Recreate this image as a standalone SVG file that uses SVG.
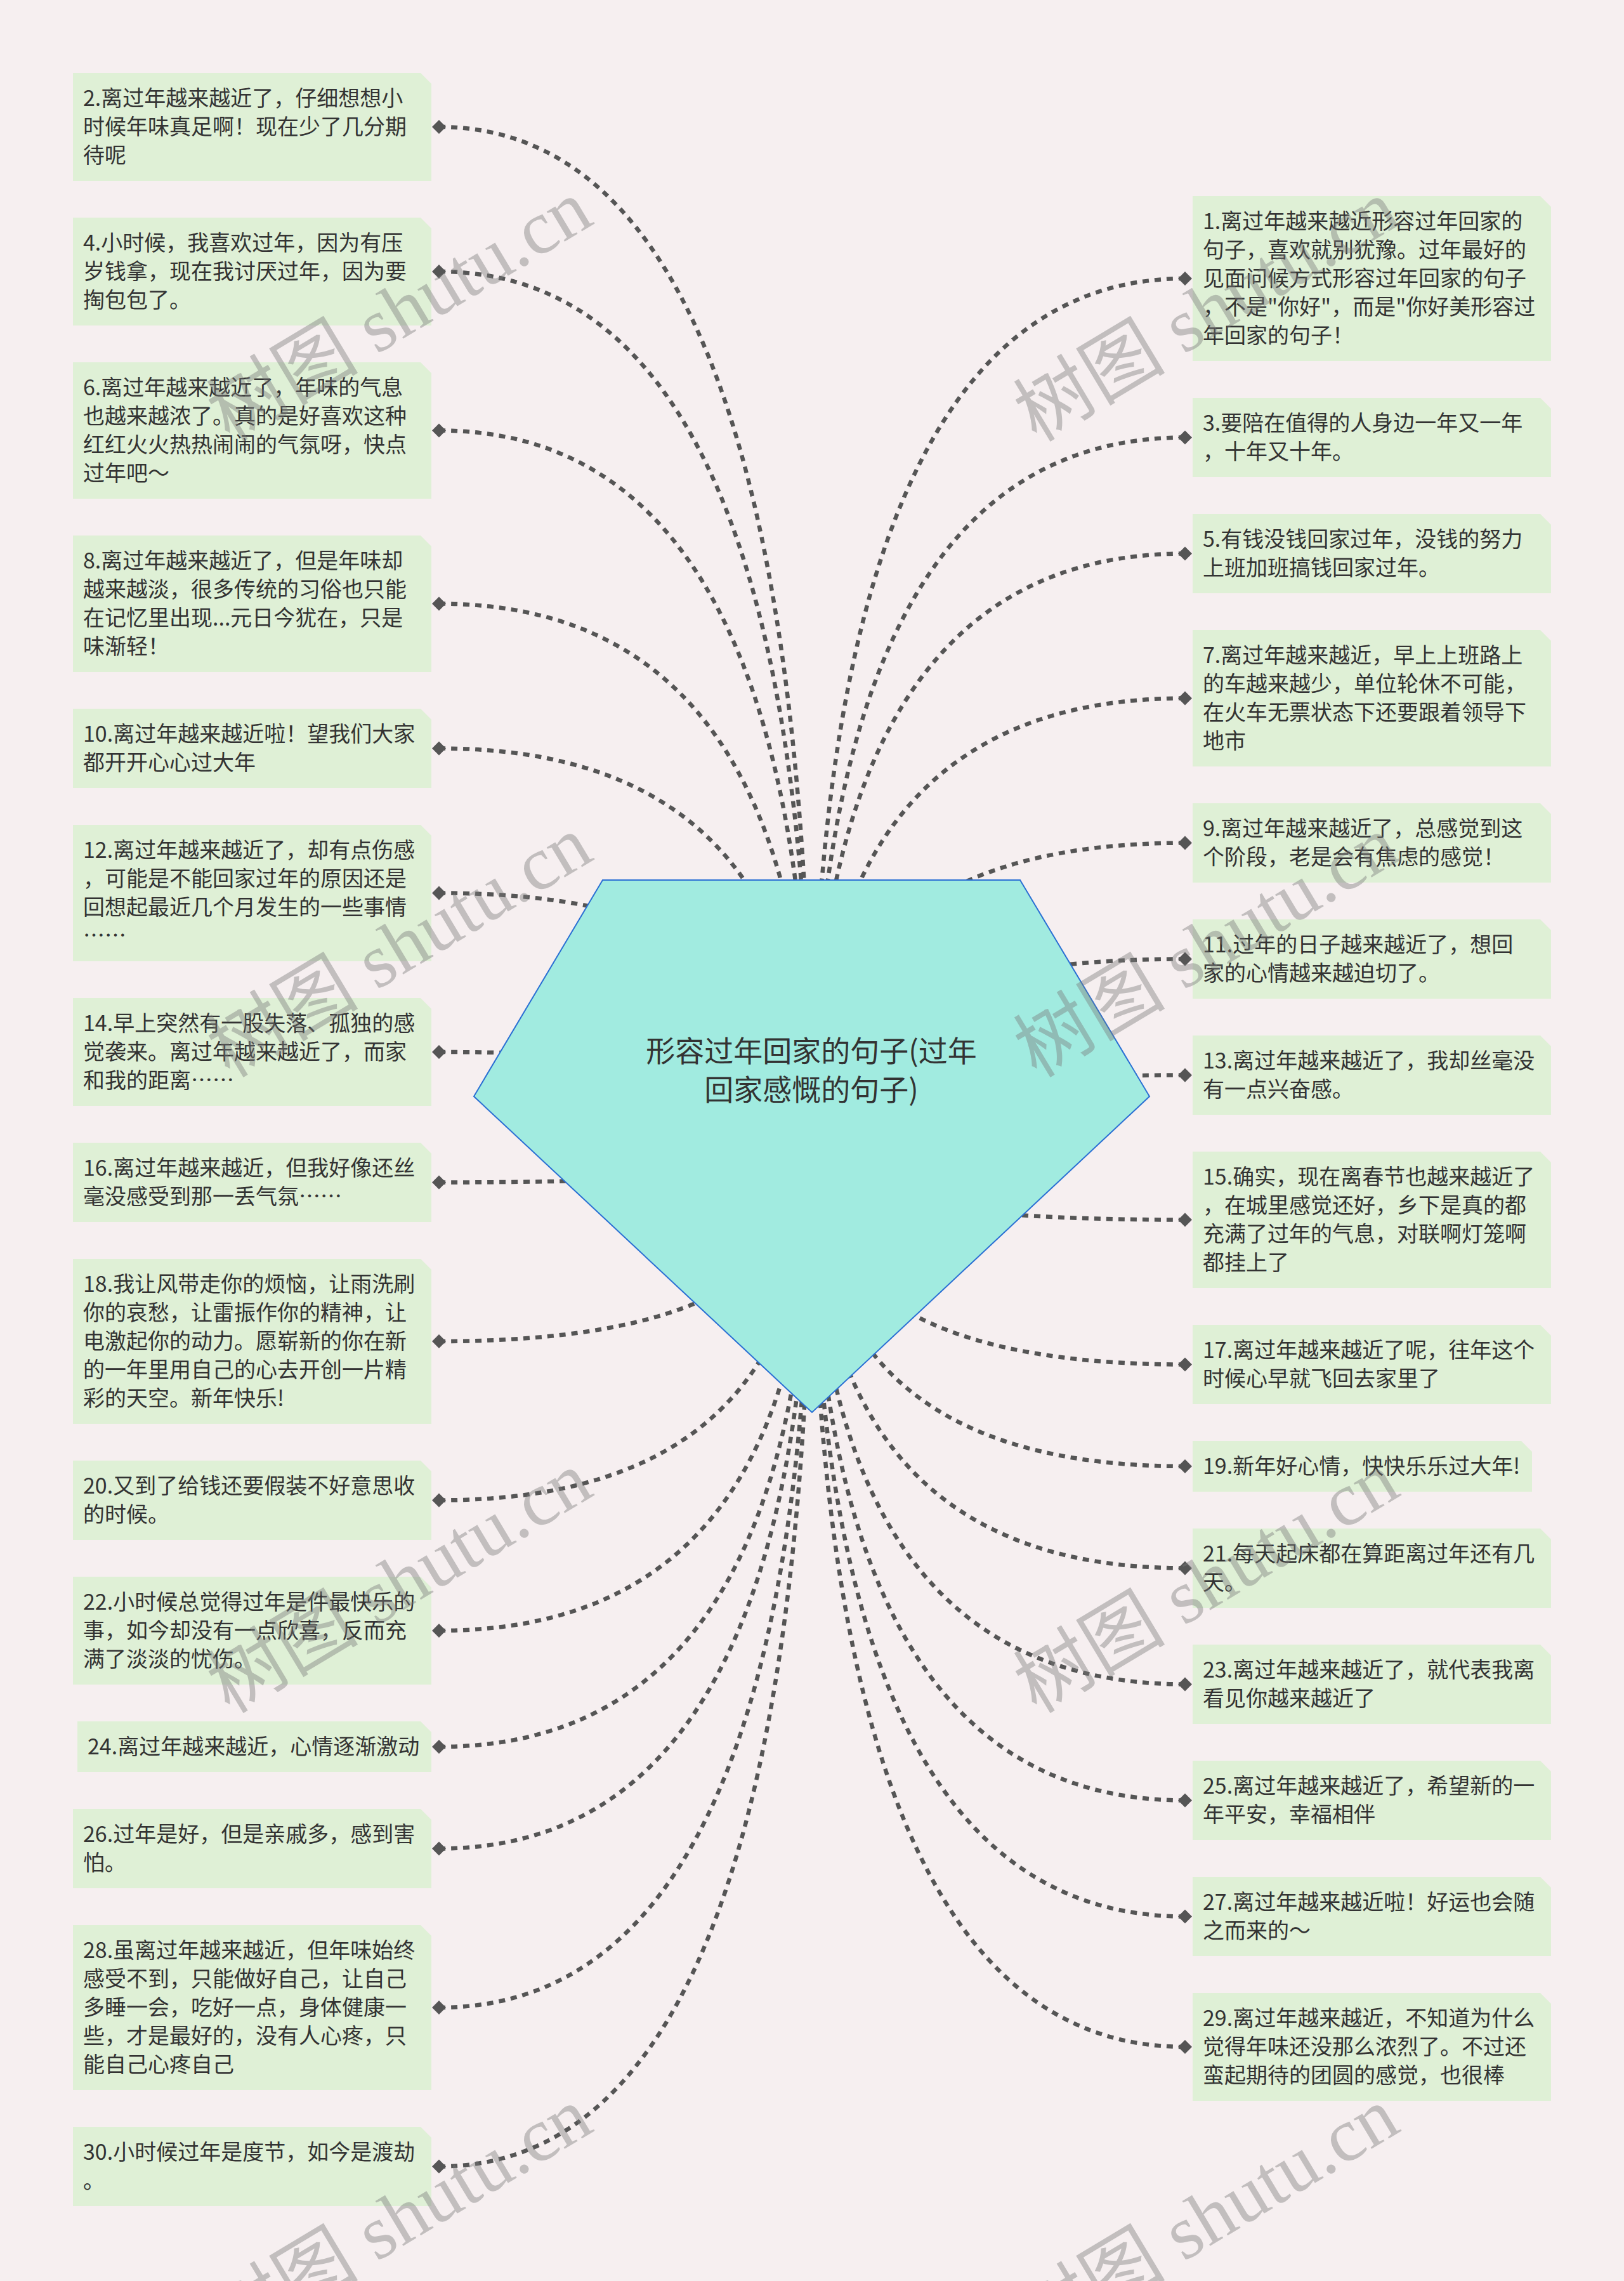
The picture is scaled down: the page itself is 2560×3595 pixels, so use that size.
<svg xmlns="http://www.w3.org/2000/svg" width="2560" height="3595" viewBox="0 0 2560 3595">
<defs>
<style>
.bg{fill:#f6eff0}
.box{fill:#dff0d6}
.t{font-family:"Noto Sans CJK SC","Liberation Sans",sans-serif;font-size:34px;fill:#333333}
.ct{font-family:"Noto Sans CJK SC","Liberation Sans",sans-serif;font-size:46px;fill:#333333;text-anchor:middle}
.c{fill:none;stroke:#555555;stroke-width:6.5;stroke-dasharray:10 9}
.dm{fill:#555555}
.wm{font-family:"Liberation Serif","Noto Sans CJK SC",serif;font-size:120px;fill:#7a7a7a;fill-opacity:0.42}
</style>
<path id="dl" d="M-11,0 L0,-11 L11,0 L0,11 Z"/>
</defs>
<rect class="bg" x="0" y="0" width="2560" height="3595"/>
<g id="connectors">
<path class="c" d="M692,200 Q1279,200 1279,1807"/>
<path class="c" d="M692,428 Q1279,428 1279,1807"/>
<path class="c" d="M692,678.5 Q1279,678.5 1279,1807"/>
<path class="c" d="M692,951.5 Q1279,951.5 1279,1807"/>
<path class="c" d="M692,1179.5 Q1279,1179.5 1279,1807"/>
<path class="c" d="M692,1407.5 Q1279,1407.5 1279,1807"/>
<path class="c" d="M692,1658 Q1279,1658 1279,1807"/>
<path class="c" d="M692,1863.5 Q1279,1863.5 1279,1807"/>
<path class="c" d="M692,2114 Q1279,2114 1279,1807"/>
<path class="c" d="M692,2364.5 Q1279,2364.5 1279,1807"/>
<path class="c" d="M692,2570 Q1279,2570 1279,1807"/>
<path class="c" d="M692,2753 Q1279,2753 1279,1807"/>
<path class="c" d="M692,2913.5 Q1279,2913.5 1279,1807"/>
<path class="c" d="M692,3164 Q1279,3164 1279,1807"/>
<path class="c" d="M692,3414.5 Q1279,3414.5 1279,1807"/>
<path class="c" d="M1868,439 Q1279,439 1279,1807"/>
<path class="c" d="M1868,689.5 Q1279,689.5 1279,1807"/>
<path class="c" d="M1868,872.5 Q1279,872.5 1279,1807"/>
<path class="c" d="M1868,1100.5 Q1279,1100.5 1279,1807"/>
<path class="c" d="M1868,1328.5 Q1279,1328.5 1279,1807"/>
<path class="c" d="M1868,1511.5 Q1279,1511.5 1279,1807"/>
<path class="c" d="M1868,1694.5 Q1279,1694.5 1279,1807"/>
<path class="c" d="M1868,1922.5 Q1279,1922.5 1279,1807"/>
<path class="c" d="M1868,2150.5 Q1279,2150.5 1279,1807"/>
<path class="c" d="M1868,2311 Q1279,2311 1279,1807"/>
<path class="c" d="M1868,2471.5 Q1279,2471.5 1279,1807"/>
<path class="c" d="M1868,2654.5 Q1279,2654.5 1279,1807"/>
<path class="c" d="M1868,2837.5 Q1279,2837.5 1279,1807"/>
<path class="c" d="M1868,3020.5 Q1279,3020.5 1279,1807"/>
<path class="c" d="M1868,3226 Q1279,3226 1279,1807"/>
</g>
<g id="center">
<polygon points="950,1387 1608,1387 1812,1728 1280,2226 747,1728" fill="#a1ebe0" stroke="#2a6fd4" stroke-width="2"/>
<text class="ct"><tspan x="1279" y="1673">形容过年回家的句子(过年</tspan><tspan x="1279" y="1734">回家感慨的句子)</tspan></text>
</g>
<g id="n2"><path class="box" d="M115,115 H663 L680,132 V285 H115 Z"/><use href="#dl" class="dm" x="692" y="200"/><text class="t"><tspan x="131" y="167">2.离过年越来越近了，仔细想想小</tspan><tspan x="131" y="212">时候年味真足啊！现在少了几分期</tspan><tspan x="131" y="257">待呢</tspan></text></g>
<g id="n4"><path class="box" d="M115,343 H663 L680,360 V513 H115 Z"/><use href="#dl" class="dm" x="692" y="428"/><text class="t"><tspan x="131" y="395">4.小时候，我喜欢过年，因为有压</tspan><tspan x="131" y="440">岁钱拿，现在我讨厌过年，因为要</tspan><tspan x="131" y="485">掏包包了。</tspan></text></g>
<g id="n6"><path class="box" d="M115,571 H663 L680,588 V786 H115 Z"/><use href="#dl" class="dm" x="692" y="678.5"/><text class="t"><tspan x="131" y="623">6.离过年越来越近了，年味的气息</tspan><tspan x="131" y="668">也越来越浓了。真的是好喜欢这种</tspan><tspan x="131" y="713">红红火火热热闹闹的气氛呀，快点</tspan><tspan x="131" y="758">过年吧～</tspan></text></g>
<g id="n8"><path class="box" d="M115,844 H663 L680,861 V1059 H115 Z"/><use href="#dl" class="dm" x="692" y="951.5"/><text class="t"><tspan x="131" y="896">8.离过年越来越近了，但是年味却</tspan><tspan x="131" y="941">越来越淡，很多传统的习俗也只能</tspan><tspan x="131" y="986">在记忆里出现...元日今犹在，只是</tspan><tspan x="131" y="1031">味渐轻！</tspan></text></g>
<g id="n10"><path class="box" d="M115,1117 H663 L680,1134 V1242 H115 Z"/><use href="#dl" class="dm" x="692" y="1179.5"/><text class="t"><tspan x="131" y="1169">10.离过年越来越近啦！望我们大家</tspan><tspan x="131" y="1214">都开开心心过大年</tspan></text></g>
<g id="n12"><path class="box" d="M115,1300 H663 L680,1317 V1515 H115 Z"/><use href="#dl" class="dm" x="692" y="1407.5"/><text class="t"><tspan x="131" y="1352">12.离过年越来越近了，却有点伤感</tspan><tspan x="131" y="1397">，可能是不能回家过年的原因还是</tspan><tspan x="131" y="1442">回想起最近几个月发生的一些事情</tspan><tspan x="131" y="1487">……</tspan></text></g>
<g id="n14"><path class="box" d="M115,1573 H663 L680,1590 V1743 H115 Z"/><use href="#dl" class="dm" x="692" y="1658"/><text class="t"><tspan x="131" y="1625">14.早上突然有一股失落、孤独的感</tspan><tspan x="131" y="1670">觉袭来。离过年越来越近了，而家</tspan><tspan x="131" y="1715">和我的距离……</tspan></text></g>
<g id="n16"><path class="box" d="M115,1801 H663 L680,1818 V1926 H115 Z"/><use href="#dl" class="dm" x="692" y="1863.5"/><text class="t"><tspan x="131" y="1853">16.离过年越来越近，但我好像还丝</tspan><tspan x="131" y="1898">毫没感受到那一丢气氛……</tspan></text></g>
<g id="n18"><path class="box" d="M115,1984 H663 L680,2001 V2244 H115 Z"/><use href="#dl" class="dm" x="692" y="2114"/><text class="t"><tspan x="131" y="2036">18.我让风带走你的烦恼，让雨洗刷</tspan><tspan x="131" y="2081">你的哀愁，让雷振作你的精神，让</tspan><tspan x="131" y="2126">电激起你的动力。愿崭新的你在新</tspan><tspan x="131" y="2171">的一年里用自己的心去开创一片精</tspan><tspan x="131" y="2216">彩的天空。新年快乐!</tspan></text></g>
<g id="n20"><path class="box" d="M115,2302 H663 L680,2319 V2427 H115 Z"/><use href="#dl" class="dm" x="692" y="2364.5"/><text class="t"><tspan x="131" y="2354">20.又到了给钱还要假装不好意思收</tspan><tspan x="131" y="2399">的时候。</tspan></text></g>
<g id="n22"><path class="box" d="M115,2485 H663 L680,2502 V2655 H115 Z"/><use href="#dl" class="dm" x="692" y="2570"/><text class="t"><tspan x="131" y="2537">22.小时候总觉得过年是件最快乐的</tspan><tspan x="131" y="2582">事，如今却没有一点欣喜，反而充</tspan><tspan x="131" y="2627">满了淡淡的忧伤。</tspan></text></g>
<g id="n24"><path class="box" d="M122,2713 H663 L680,2730 V2793 H122 Z"/><use href="#dl" class="dm" x="692" y="2753"/><text class="t"><tspan x="138" y="2765">24.离过年越来越近，心情逐渐激动</tspan></text></g>
<g id="n26"><path class="box" d="M115,2851 H663 L680,2868 V2976 H115 Z"/><use href="#dl" class="dm" x="692" y="2913.5"/><text class="t"><tspan x="131" y="2903">26.过年是好，但是亲戚多，感到害</tspan><tspan x="131" y="2948">怕。</tspan></text></g>
<g id="n28"><path class="box" d="M115,3034 H663 L680,3051 V3294 H115 Z"/><use href="#dl" class="dm" x="692" y="3164"/><text class="t"><tspan x="131" y="3086">28.虽离过年越来越近，但年味始终</tspan><tspan x="131" y="3131">感受不到，只能做好自己，让自己</tspan><tspan x="131" y="3176">多睡一会，吃好一点，身体健康一</tspan><tspan x="131" y="3221">些，才是最好的，没有人心疼，只</tspan><tspan x="131" y="3266">能自己心疼自己</tspan></text></g>
<g id="n30"><path class="box" d="M115,3352 H663 L680,3369 V3477 H115 Z"/><use href="#dl" class="dm" x="692" y="3414.5"/><text class="t"><tspan x="131" y="3404">30.小时候过年是度节，如今是渡劫</tspan><tspan x="131" y="3449">。</tspan></text></g>
<g id="n1"><path class="box" d="M1880,309 H2428 L2445,326 V569 H1880 Z"/><use href="#dl" class="dm" x="1868" y="439"/><text class="t"><tspan x="1896" y="361">1.离过年越来越近形容过年回家的</tspan><tspan x="1896" y="406">句子，喜欢就别犹豫。过年最好的</tspan><tspan x="1896" y="451">见面问候方式形容过年回家的句子</tspan><tspan x="1896" y="496">，不是"你好"，而是"你好美形容过</tspan><tspan x="1896" y="541">年回家的句子！</tspan></text></g>
<g id="n3"><path class="box" d="M1880,627 H2428 L2445,644 V752 H1880 Z"/><use href="#dl" class="dm" x="1868" y="689.5"/><text class="t"><tspan x="1896" y="679">3.要陪在值得的人身边一年又一年</tspan><tspan x="1896" y="724">，十年又十年。</tspan></text></g>
<g id="n5"><path class="box" d="M1880,810 H2428 L2445,827 V935 H1880 Z"/><use href="#dl" class="dm" x="1868" y="872.5"/><text class="t"><tspan x="1896" y="862">5.有钱没钱回家过年，没钱的努力</tspan><tspan x="1896" y="907">上班加班搞钱回家过年。</tspan></text></g>
<g id="n7"><path class="box" d="M1880,993 H2428 L2445,1010 V1208 H1880 Z"/><use href="#dl" class="dm" x="1868" y="1100.5"/><text class="t"><tspan x="1896" y="1045">7.离过年越来越近，早上上班路上</tspan><tspan x="1896" y="1090">的车越来越少，单位轮休不可能，</tspan><tspan x="1896" y="1135">在火车无票状态下还要跟着领导下</tspan><tspan x="1896" y="1180">地市</tspan></text></g>
<g id="n9"><path class="box" d="M1880,1266 H2428 L2445,1283 V1391 H1880 Z"/><use href="#dl" class="dm" x="1868" y="1328.5"/><text class="t"><tspan x="1896" y="1318">9.离过年越来越近了，总感觉到这</tspan><tspan x="1896" y="1363">个阶段，老是会有焦虑的感觉！</tspan></text></g>
<g id="n11"><path class="box" d="M1880,1449 H2428 L2445,1466 V1574 H1880 Z"/><use href="#dl" class="dm" x="1868" y="1511.5"/><text class="t"><tspan x="1896" y="1501">11.过年的日子越来越近了，想回</tspan><tspan x="1896" y="1546">家的心情越来越迫切了。</tspan></text></g>
<g id="n13"><path class="box" d="M1880,1632 H2428 L2445,1649 V1757 H1880 Z"/><use href="#dl" class="dm" x="1868" y="1694.5"/><text class="t"><tspan x="1896" y="1684">13.离过年越来越近了，我却丝毫没</tspan><tspan x="1896" y="1729">有一点兴奋感。</tspan></text></g>
<g id="n15"><path class="box" d="M1880,1815 H2428 L2445,1832 V2030 H1880 Z"/><use href="#dl" class="dm" x="1868" y="1922.5"/><text class="t"><tspan x="1896" y="1867">15.确实，现在离春节也越来越近了</tspan><tspan x="1896" y="1912">，在城里感觉还好，乡下是真的都</tspan><tspan x="1896" y="1957">充满了过年的气息，对联啊灯笼啊</tspan><tspan x="1896" y="2002">都挂上了</tspan></text></g>
<g id="n17"><path class="box" d="M1880,2088 H2428 L2445,2105 V2213 H1880 Z"/><use href="#dl" class="dm" x="1868" y="2150.5"/><text class="t"><tspan x="1896" y="2140">17.离过年越来越近了呢，往年这个</tspan><tspan x="1896" y="2185">时候心早就飞回去家里了</tspan></text></g>
<g id="n19"><path class="box" d="M1880,2271 H2398 L2415,2288 V2351 H1880 Z"/><use href="#dl" class="dm" x="1868" y="2311"/><text class="t"><tspan x="1896" y="2323">19.新年好心情，快快乐乐过大年!</tspan></text></g>
<g id="n21"><path class="box" d="M1880,2409 H2428 L2445,2426 V2534 H1880 Z"/><use href="#dl" class="dm" x="1868" y="2471.5"/><text class="t"><tspan x="1896" y="2461">21.每天起床都在算距离过年还有几</tspan><tspan x="1896" y="2506">天。</tspan></text></g>
<g id="n23"><path class="box" d="M1880,2592 H2428 L2445,2609 V2717 H1880 Z"/><use href="#dl" class="dm" x="1868" y="2654.5"/><text class="t"><tspan x="1896" y="2644">23.离过年越来越近了，就代表我离</tspan><tspan x="1896" y="2689">看见你越来越近了</tspan></text></g>
<g id="n25"><path class="box" d="M1880,2775 H2428 L2445,2792 V2900 H1880 Z"/><use href="#dl" class="dm" x="1868" y="2837.5"/><text class="t"><tspan x="1896" y="2827">25.离过年越来越近了，希望新的一</tspan><tspan x="1896" y="2872">年平安，幸福相伴</tspan></text></g>
<g id="n27"><path class="box" d="M1880,2958 H2428 L2445,2975 V3083 H1880 Z"/><use href="#dl" class="dm" x="1868" y="3020.5"/><text class="t"><tspan x="1896" y="3010">27.离过年越来越近啦！好运也会随</tspan><tspan x="1896" y="3055">之而来的～</tspan></text></g>
<g id="n29"><path class="box" d="M1880,3141 H2428 L2445,3158 V3311 H1880 Z"/><use href="#dl" class="dm" x="1868" y="3226"/><text class="t"><tspan x="1896" y="3193">29.离过年越来越近，不知道为什么</tspan><tspan x="1896" y="3238">觉得年味还没那么浓烈了。不过还</tspan><tspan x="1896" y="3283">蛮起期待的团圆的感觉，也很棒</tspan></text></g>
<g id="watermarks">
<text class="wm" transform="translate(362,698) rotate(-31)">树图 shutu.cn</text>
<text class="wm" transform="translate(1634,698) rotate(-31)">树图 shutu.cn</text>
<text class="wm" transform="translate(362,1700) rotate(-31)">树图 shutu.cn</text>
<text class="wm" transform="translate(1634,1700) rotate(-31)">树图 shutu.cn</text>
<text class="wm" transform="translate(362,2702) rotate(-31)">树图 shutu.cn</text>
<text class="wm" transform="translate(1634,2702) rotate(-31)">树图 shutu.cn</text>
<text class="wm" transform="translate(362,3704) rotate(-31)">树图 shutu.cn</text>
<text class="wm" transform="translate(1634,3704) rotate(-31)">树图 shutu.cn</text>
</g>
</svg>
